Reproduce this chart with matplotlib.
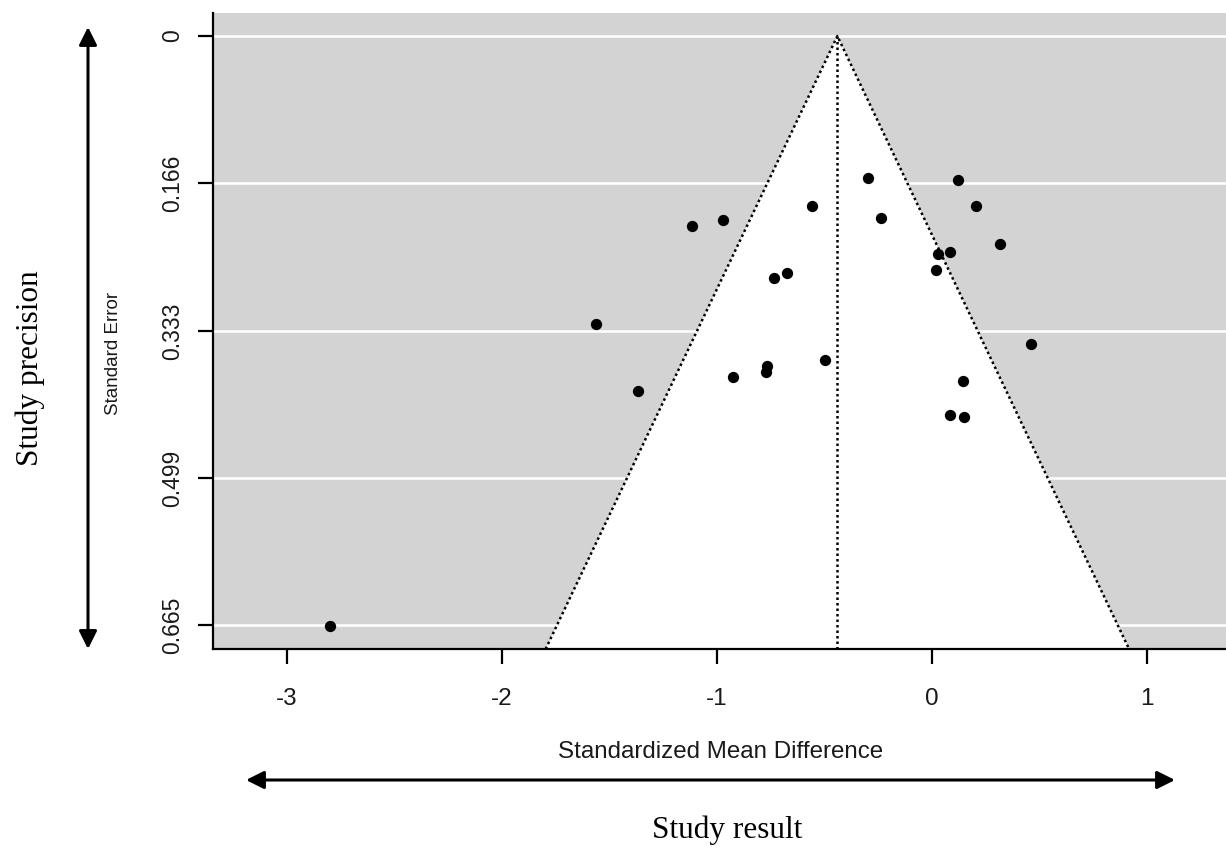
import matplotlib
matplotlib.use("Agg")
import matplotlib.pyplot as plt
from matplotlib.patches import Polygon, FancyArrowPatch

# ---- data ----
smd = [-0.299, 0.119, 0.203, -0.560, -0.971, -1.118, -0.236, 0.315, 0.026, 0.084,
       0.017, -0.673, -0.736, -1.564, 0.462, -0.496, -0.766, -0.774, -0.924, 0.146,
       -1.369, 0.082, 0.147, -2.800]
se = [0.1606, 0.1629, 0.1922, 0.1922, 0.2080, 0.2148, 0.2058, 0.2351, 0.2464, 0.2441,
      0.2644, 0.2671, 0.2735, 0.3254, 0.3480, 0.3660, 0.3728, 0.3796, 0.3845, 0.3890,
      0.4003, 0.4278, 0.4297, 0.6656]
pooled = -0.44
z_crit = 1.96
y_ticks = [0, 0.166, 0.333, 0.499, 0.665]
y_ticklabels = ["0", "0.166", "0.333", "0.499", "0.665"]
x_ticks = [-3, -2, -1, 0, 1]
x_ticklabels = ["-3", "-2", "-1", "0", "1"]

W, H = 1226, 848
fig = plt.figure(figsize=(W / 100, H / 100), dpi=100)
fig.patch.set_facecolor("white")

ax = fig.add_axes([213 / W, 1 - 649 / H, 1 - 213 / W, (649 - 13) / H])
ax.set_facecolor("#d3d3d3")
xlim = (-3.343, 1.367)
ylim = (0.692, -0.026)
ax.set_xlim(*xlim)
ax.set_ylim(*ylim)

# grid lines
for t in y_ticks:
    ax.axhline(t, color="white", lw=1.8, zorder=1)

# funnel region
ybot = ylim[0]
poly = Polygon([(pooled - z_crit * ybot, ybot), (pooled, 0), (pooled + z_crit * ybot, ybot)],
               closed=True, facecolor="white", edgecolor="none", zorder=2)
ax.add_patch(poly)
dot = (0, (1, 1.2))
ax.plot([pooled - z_crit * ybot, pooled, pooled + z_crit * ybot], [ybot, 0, ybot],
        color="black", lw=1.8, linestyle=dot, zorder=3)
ax.plot([pooled, pooled], [0, ybot], color="black", lw=1.8, linestyle=dot, zorder=3)

ax.scatter(smd, se, s=66, color="black", zorder=4, linewidths=0)

for side in ["top", "right"]:
    ax.spines[side].set_visible(False)
for side in ["left", "bottom"]:
    ax.spines[side].set_linewidth(1.6)

ax.set_yticks(y_ticks)
ax.set_yticklabels(y_ticklabels, rotation=90, va="center",
                   fontfamily="Liberation Sans", fontsize=16.5, color="#1a1a1a")
ax.set_xticks(x_ticks)
ax.set_xticklabels(x_ticklabels, fontfamily="Liberation Sans", fontsize=17.5, color="#1a1a1a")
ax.tick_params(axis="both", length=11, width=1.6, direction="out")
ax.tick_params(axis="y", pad=10)
ax.tick_params(axis="x", pad=17)

# axis titles (figure pixel positions)
fig.text(113 / W, 1 - 353 / H, "Standard Error", rotation=90, ha="center", va="center",
         fontfamily="Liberation Sans", fontsize=13.5, color="#1a1a1a")
fig.text(721 / W, 1 - 752 / H, "Standardized Mean Difference", ha="center", va="center",
         fontfamily="Liberation Sans", fontsize=17.4, color="#1a1a1a")

# outer annotations
fig.text(30 / W, 1 - 368 / H, "Study precision", rotation=90, ha="center", va="center",
         fontfamily="Liberation Serif", fontsize=22.5, color="black")
fig.text(727 / W, 1 - 830 / H, "Study result", ha="center", va="center",
         fontfamily="Liberation Serif", fontsize=22.5, color="black")

arrowstyle = "<|-|>,head_length=1.0,head_width=0.5"
a1 = FancyArrowPatch((88 / W, 1 - 27 / H), (88 / W, 1 - 649 / H), transform=fig.transFigure,
                     arrowstyle=arrowstyle, mutation_scale=10.8, color="black", lw=2.2,
                     shrinkA=0, shrinkB=0)
a2 = FancyArrowPatch((246 / W, 1 - 780 / H), (1175 / W, 1 - 780 / H), transform=fig.transFigure,
                     arrowstyle=arrowstyle, mutation_scale=10.8, color="black", lw=2.2,
                     shrinkA=0, shrinkB=0)
fig.add_artist(a1)
fig.add_artist(a2)

fig.savefig("out.png", dpi=100)
